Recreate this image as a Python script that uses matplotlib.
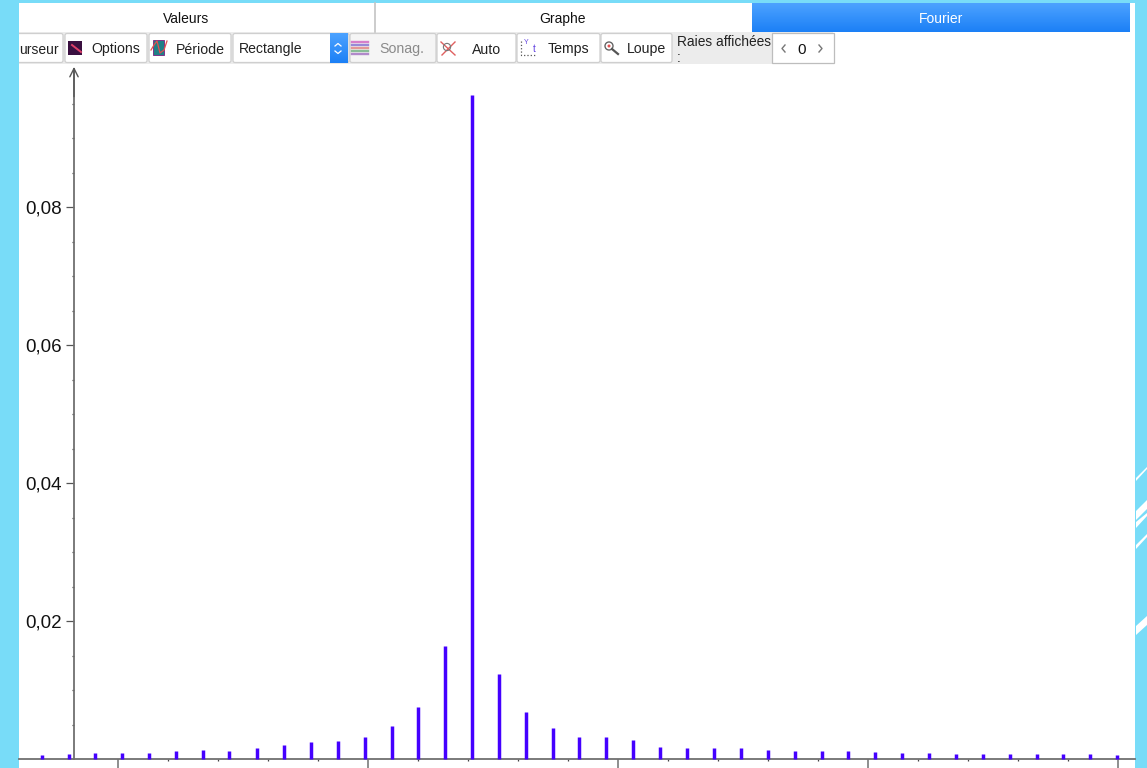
"""
    Screenshot of the Fourier tab: spectrum lines with the toolbar above it.
"""

import numpy as np
import matplotlib
matplotlib.use('Agg')
import matplotlib.pyplot as plt
from matplotlib.patches import FancyBboxPatch, Rectangle, Polygon, Circle

plt.rcParams['font.family'] = ['Liberation Sans', 'DejaVu Sans']

# ------------------------------------- Data ---------------------------------------- #
frequences = [694, 802, 908, 1016, 1124, 1232, 1340, 1444, 1554, 1662, 1770, 1878, 1986, 2094,
              2200, 2308, 2416, 2524, 2630, 2738, 2844, 2952, 3060, 3168, 3276, 3384, 3492,
              3600, 3708, 3816, 3920, 4028, 4136, 4244, 4352, 4460, 4568, 4676, 4780, 4888, 4996]
amplitudes = [0.00058, 0.00072, 0.00087, 0.00087, 0.00087, 0.00120, 0.00126, 0.00116, 0.00159,
              0.00199, 0.00246, 0.00265, 0.00323, 0.00483, 0.00754, 0.01633, 0.09620, 0.01236,
              0.00686, 0.00449, 0.00323, 0.00323, 0.00280, 0.00170, 0.00155, 0.00155, 0.00155,
              0.00126, 0.00120, 0.00116, 0.00112, 0.00101, 0.00091, 0.00083, 0.00077, 0.00077,
              0.00068, 0.00068, 0.00068, 0.00068, 0.00062]

y_major = [0.02, 0.04, 0.06, 0.08]
y_labels = ['0,02', '0,04', '0,06', '0,08']
y_minor = [0.005, 0.01, 0.015, 0.025, 0.03, 0.035, 0.045, 0.05, 0.055,
           0.065, 0.07, 0.075, 0.085, 0.09, 0.095]
x_major = [1000, 2000, 3000, 4000, 5000]
x_minor = [1200, 1400, 1600, 1800, 2200, 2400, 2600, 2800, 3200, 3400, 3600, 3800,
           4200, 4400, 4600, 4800]

tabs = ['Valeurs', 'Graphe', 'Fourier']
buttons = ['Options', 'Période', 'Sonag.', 'Auto', 'Temps', 'Loupe']

# ------------------------------------- Figure --------------------------------------- #
W, H = 1147, 768
CYAN = '#78DCF8'
fig = plt.figure(figsize=(W / 100, H / 100), dpi=100, facecolor=CYAN)

# window chrome, drawn in pixel coordinates
bg = fig.add_axes([0, 0, 1, 1])
bg.axis('off')

bg.add_patch(Rectangle((19, 3), 1116, 765, fc='white', ec='none'))
bg.add_patch(Rectangle((19, 32), 814, 32, fc='#ECECEC', ec='none'))
bg.plot([374.5, 374.5], [3, 32], color='#C4C4C4', lw=1.2)

grad = np.linspace(0, 1, 30).reshape(-1, 1)
top = np.array([0x4C, 0xA2, 0xFF]) / 255
bot = np.array([0x1C, 0x80, 0xF6]) / 255
bg.imshow(top + (bot - top) * grad[:, :, None], extent=(752, 1130, 32, 3), aspect='auto', zorder=1)
bg.imshow(top + (bot - top) * grad[:, :, None], extent=(330, 348, 63, 33), aspect='auto', zorder=3)

tab_x = [186, 563, 941]
tab_col = ['#111111', '#111111', 'white']
for t, x, c in zip(tabs, tab_x, tab_col):
    bg.text(x, 19, t, ha='center', va='center', fontsize=10, color=c, zorder=4)


def button(x0, x1, fc='white', y0=33.5, y1=62.5):
    bg.add_patch(FancyBboxPatch((x0 + 2, y0 + 2), x1 - x0 - 4, y1 - y0 - 4,
                                boxstyle='round,pad=2', fc=fc, ec='#CFCFCF', lw=0.9, zorder=2))


button(12, 63)
bg.add_patch(Rectangle((0, 30), 19, 38, fc=CYAN, ec='none', zorder=2.5))
bg.text(19, 49.5, 'urseur', ha='left', va='center', fontsize=10, color='#222222', zorder=4)

btn_x = [(65, 147), (149, 231), (350, 436), (437, 516), (517, 600), (601, 672)]
btn_txt = [116, 200, 402, 487, 568, 647]
for b, (x0, x1), tx in zip(buttons, btn_x, btn_txt):
    grey = b == 'Sonag.'
    button(x0, x1, fc='#F5F5F5' if grey else 'white')
    bg.text(tx, 49.5, b, ha='center', va='center', fontsize=10.2,
            color='#8A8A8A' if grey else '#222222', zorder=4)

# combobox
button(233, 349)
bg.text(239, 49.5, 'Rectangle', ha='left', va='center', fontsize=10.1, color='#222222', zorder=4)
bg.plot([335, 338, 341], [46, 43.5, 46], color='white', lw=0.9, zorder=4)
bg.plot([335, 338, 341], [51, 53.5, 51], color='white', lw=0.9, zorder=4)

# icons
bg.add_patch(Rectangle((68, 41), 14, 14, fc='#3A1040', ec='none', zorder=4))
bg.plot([72, 81], [45, 52], color='#E0406A', lw=1.4, zorder=5)
bg.add_patch(Rectangle((153, 40), 11, 15, fc='#1F7F86', ec='#7A1E80', lw=0.6, zorder=4))
bg.plot([151, 154, 157, 160, 164, 167], [50, 45, 41, 53, 50, 41], color='#E25050', lw=0.9, zorder=5)
for yy, cc in zip([42, 45, 48, 51, 54], ['#D060C0', '#8070D0', '#E08080', '#70B080', '#A070C0']):
    bg.plot([352, 368], [yy, yy], color=cc, lw=1.7, alpha=0.8, zorder=4)
bg.plot([441, 455], [42, 55], color='#E06060', lw=1.0, zorder=4)
bg.plot([442, 455], [55, 42], color='#E06060', lw=1.0, zorder=4)
bg.add_patch(Circle((447, 47), 3.6, fc='none', ec='#777777', lw=0.8, zorder=4))
bg.plot([521, 521, 535], [41, 55, 55], color='#555555', lw=0.9, ls=':', zorder=4)
bg.text(526, 43, 'Y', fontsize=5, color='#6040E0', ha='center', va='center', zorder=4)
bg.text(534, 49, 't', fontsize=7, color='#6040E0', ha='center', va='center', zorder=4)
bg.add_patch(Circle((609, 46), 4, fc='white', ec='#666666', lw=1, zorder=4))
bg.add_patch(Circle((609, 46), 1.5, fc='#E05050', ec='none', zorder=5))
bg.plot([612, 618], [49, 54], color='#555555', lw=1.6, zorder=4)

# line counter
bg.text(677, 42, 'Raies affichées', ha='left', va='center', fontsize=9.9, color='#222222', zorder=4)
bg.text(677, 58, ':', ha='left', va='center', fontsize=10, color='#222222', zorder=4)
bg.add_patch(Rectangle((771.5, 33), 62, 30, fc='white', ec='#BDBDBD', lw=0.9, zorder=2))
bg.text(802, 49.5, '0', ha='center', va='center', fontsize=11, color='#111111', zorder=4)
bg.plot([785, 782, 785], [45, 48.5, 52], color='#777777', lw=1, zorder=4)
bg.plot([819, 822, 819], [45, 48.5, 52], color='#777777', lw=1, zorder=4)

# white stripes of the slide background on the right
stripes = [[(1136, 478), (1147, 467), (1147, 469), (1136, 481)],
           [(1136, 511), (1147, 500), (1147, 509), (1136, 520)],
           [(1136, 522), (1147, 513), (1147, 516), (1136, 528)],
           [(1136, 545), (1147, 534), (1147, 537), (1136, 549)],
           [(1136, 626), (1147, 616), (1147, 625), (1136, 635)]]
for s in stripes:
    bg.add_patch(Polygon(s, closed=True, fc='white', ec='none', zorder=2))

bg.set_xlim(0, W)
bg.set_ylim(H, 0)

# ------------------------------------- Spectrum ------------------------------------- #
ax = fig.add_axes([19 / W, 0, 1116 / W, (H - 64) / H])
ax.patch.set_alpha(0)
ax.set_xlim(604, 5068)
ax.set_ylim(-9 / 6900, 695 / 6900)

ax.vlines(frequences, 0, amplitudes, color='#4400FF', lw=2.5, zorder=3)

for name in ['top', 'right']:
    ax.spines[name].set_visible(False)
ax.spines['left'].set_position(('data', 824))
ax.spines['bottom'].set_position(('data', 0))
ax.spines['left'].set_bounds(0, 0.1)
for name in ['left', 'bottom']:
    ax.spines[name].set_color('#707070')
    ax.spines[name].set_linewidth(1.3)

ax.annotate('', xy=(824, 0.1003), xytext=(824, 0.096),
            arrowprops=dict(arrowstyle='->', color='#555555', lw=1, shrinkA=0, shrinkB=0,
                            mutation_scale=15))

ax.set_yticks(y_major)
ax.set_yticklabels(y_labels, fontsize=13.5, color='#111111')
ax.set_yticks(y_minor, minor=True)
ax.set_xticks(x_major)
ax.set_xticks(x_minor, minor=True)
ax.set_xticklabels([])
ax.tick_params(axis='y', which='major', direction='out', length=6, width=0.9, color='#555555', pad=3)
ax.tick_params(axis='y', which='minor', direction='out', length=1.6, width=0.9, color='#444444')
ax.tick_params(axis='x', which='major', direction='out', length=7, width=1.1, color='#707070')
ax.tick_params(axis='x', which='minor', direction='out', length=1.6, width=0.9, color='#444444')

fig.savefig('out.png', dpi=100, facecolor=fig.get_facecolor())
